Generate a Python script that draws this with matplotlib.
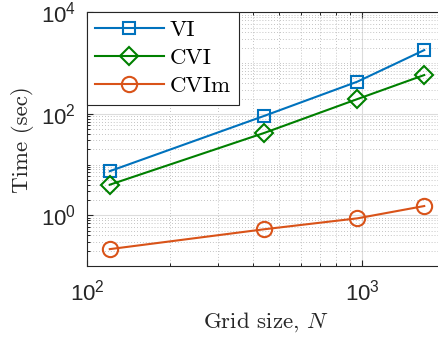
import numpy as np
import matplotlib
matplotlib.use("Agg")
import matplotlib.pyplot as plt
from matplotlib.ticker import FixedLocator, LogLocator, LogFormatterSciNotation, NullFormatter

plt.rcParams["font.family"] = ["Liberation Sans", "DejaVu Sans"]
plt.rcParams["mathtext.fontset"] = "cm"

# grid sizes (11^2, 21^2, 31^2, 41^2) and run times in seconds
grid_n = [121, 441, 961, 1681]
time_vi = [7.4, 91, 430, 1800]
time_cvi = [4.0, 42, 195, 580]
time_cvim = [0.215, 0.53, 0.87, 1.52]

series = [
    ("VI", time_vi, "s", "#0072BD", 8.5),
    ("CVI", time_cvi, "D", "#008000", 9.0),
    ("CVIm", time_cvim, "o", "#D95319", 11.0),
]

W, H = 438, 343
fig = plt.figure(figsize=(W / 100, H / 100), dpi=100)
ax = fig.add_axes([87 / W, 77 / H, 358 / W, 253.7 / H])

for name, vals, mk, col, ms in series:
    ax.plot(grid_n, vals, marker=mk, color=col, lw=1.5, ms=ms,
            mfc="none", mec=col, mew=1.5, label=name)

ax.set_xscale("log")
ax.set_yscale("log")
ax.set_xlim(100, 2000)
ax.set_ylim(0.1, 1e4)

ax.yaxis.set_major_locator(FixedLocator([1, 1e2, 1e4]))
ax.yaxis.set_major_formatter(LogFormatterSciNotation())
ax.yaxis.set_minor_locator(LogLocator(base=10, subs=np.arange(1, 10), numticks=50))
ax.yaxis.set_minor_formatter(NullFormatter())
ax.xaxis.set_major_locator(FixedLocator([1e2, 1e3]))
ax.xaxis.set_major_formatter(LogFormatterSciNotation())
ax.xaxis.set_minor_locator(LogLocator(base=10, subs=np.arange(1, 10), numticks=50))
ax.xaxis.set_minor_formatter(NullFormatter())

ax.grid(which="major", color="#dcdcdc", lw=0.8, ls="-")
ax.grid(which="minor", color="#b0b0b0", lw=0.6, ls=(0, (1, 2.5)))
ax.set_axisbelow(True)

ax.tick_params(which="both", direction="in", top=True, right=True)
ax.tick_params(which="major", length=4, labelsize=16, colors="#262626")
ax.tick_params(which="minor", length=2)
ax.tick_params(axis="x", which="major", pad=10)
ax.tick_params(axis="y", which="major", pad=8)
for sp in ax.spines.values():
    sp.set_color("#262626")
    sp.set_linewidth(0.8)

ax.set_xlabel("Grid size, $N$", fontfamily="cmr10", fontsize=16.5, color="#262626", labelpad=3)
ax.set_ylabel("Time (sec)", fontfamily="cmr10", fontsize=16.5, color="#262626", labelpad=5)

leg = ax.legend(loc="upper left", borderaxespad=0, fancybox=False, framealpha=1,
                edgecolor="#262626", handlelength=3.0, handletextpad=0.26,
                labelspacing=0.35, borderpad=0.35,
                prop={"family": "cmr10", "size": 16.5})
leg.get_frame().set_linewidth(0.8)

fig.savefig("out.png", dpi=100)
